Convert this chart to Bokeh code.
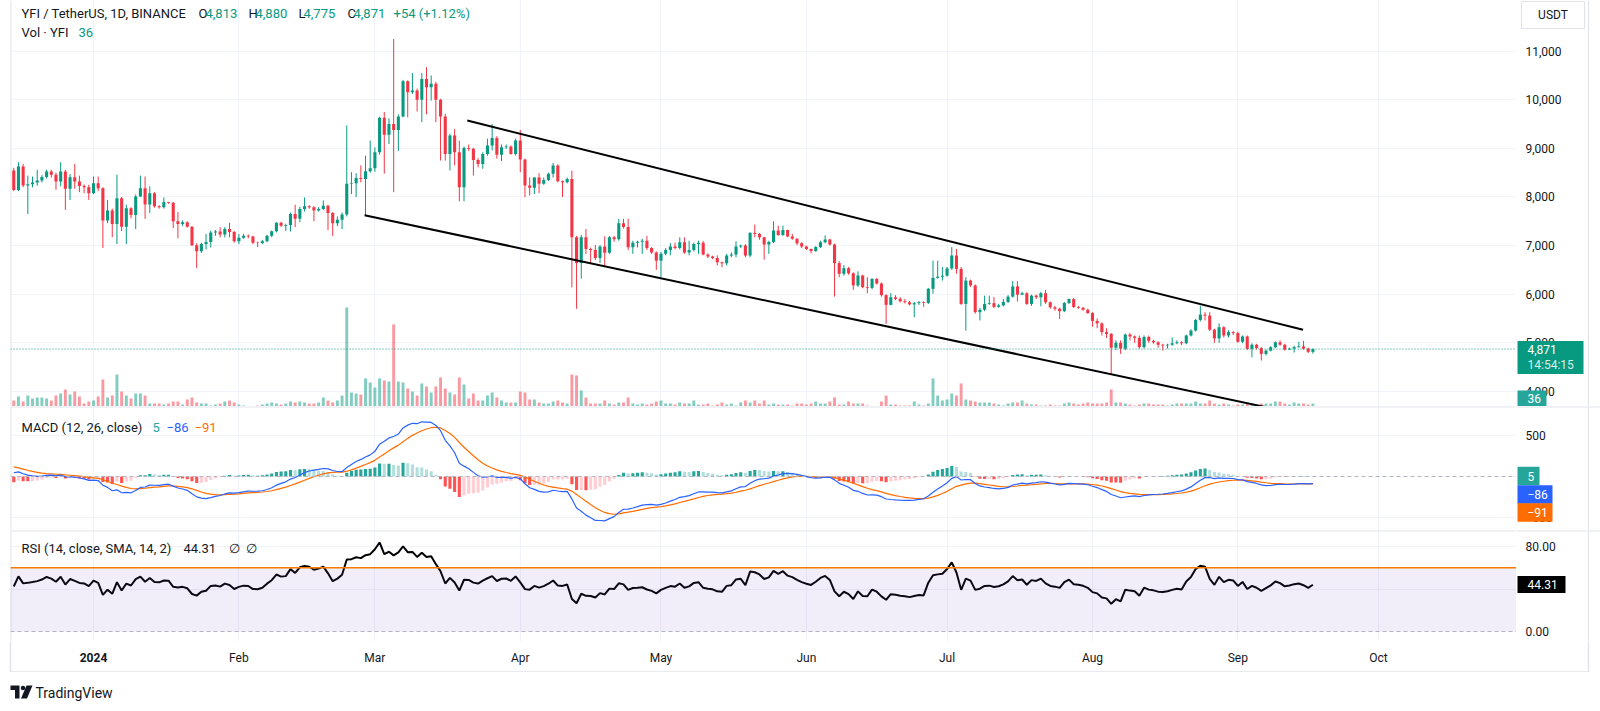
import numpy as np
import pandas as pd
from bokeh.plotting import figure
from bokeh.layouts import column, row
from bokeh.models import Range1d, FixedTicker, Grid, Label, Span, BoxAnnotation
from bokeh.core.properties import value
from bokeh.embed import file_html
from bokeh.resources import INLINE

# ---------------- data ----------------
FIRST_DAY = "2023-12-15"
REF_DAY = "2024-01-01"

opens = [
    8544, 8146, 8626, 8235, 8260, 8300, 8340, 8410, 8525, 8455,
    8320, 8525, 8170, 8407, 8320, 8225, 8200, 8078, 8285, 8180,
    7515, 7721, 7446, 7975, 7390, 7770, 7630, 8010, 8180, 7845,
    8078, 7810, 7790, 7895, 7880, 7500, 7446, 7480, 7390, 7007,
    6884, 7035, 7075, 7270, 7290, 7230, 7340, 7280, 7090, 7160,
    7200, 7185, 7060, 7055, 7090, 7200, 7295, 7470, 7410, 7425,
    7650, 7550, 7755, 7810, 7790, 7720, 7755, 7820, 7670, 7460,
    7530, 7640, 8270, 8285, 8390, 8370, 8530, 8590, 8920, 9630,
    9280, 9500, 9380, 9655, 10380, 10155, 10190, 10000, 10430, 10260,
    10330, 10000, 9655, 8887, 9265, 8920, 8200, 9010, 8990, 8760,
    8680, 8887, 9060, 9216, 8870, 9024, 9040, 8887, 9160, 8770,
    8235, 8190, 8400, 8270, 8350, 8476, 8650, 8325, 8305, 8370,
    7170, 6640, 7172, 6930, 6910, 6745, 6980, 6855, 7170, 7130,
    7460, 7380, 6966, 7060, 7080, 7100, 6950, 6860, 6690, 6830,
    6910, 6980, 6950, 7070, 6860, 6910, 7035, 7060, 6815, 6775,
    6745, 6655, 6635, 6795, 6815, 6980, 7000, 6795, 7260, 7240,
    7170, 7020, 7075, 7310, 7220, 7320, 7185, 7140, 7050, 6980,
    6930, 6890, 6970, 7070, 7125, 7020, 6640, 6420, 6535, 6430,
    6180, 6385, 6145, 6130, 6315, 6220, 5980, 5780, 5937, 5905,
    5855, 5835, 5790, 5815, 5835, 5820, 6110, 6335, 6360, 6380,
    6530, 6795, 6520, 5800, 6280, 6180, 5630, 5680, 5800, 5815,
    5740, 5770, 5840, 5950, 6160, 5990, 6020, 5800, 5970, 5937,
    6020, 5835, 5730, 5700, 5650, 5820, 5900, 5735, 5720, 5680,
    5610, 5450, 5400, 5220, 5183, 4900, 5000, 4880, 5170, 5130,
    5100, 4910, 5120, 5040, 5010, 4960, 4945, 4960, 4990, 5010,
    4990, 5150, 5251, 5470, 5580, 5560, 5270, 5090, 5320, 5150,
    5220, 5200, 5020, 5130, 4874, 4960, 4890, 4771, 4840, 4908,
    5010, 4960, 4860, 4880, 4910, 4925, 4880, 4813,
]
highs = [
    8600, 8716, 8680, 8440, 8420, 8560, 8450, 8560, 8560, 8500,
    8716, 8560, 8470, 8680, 8440, 8260, 8250, 8420, 8420, 8200,
    7940, 7760, 8460, 8000, 7840, 7790, 8050, 8440, 8420, 8220,
    8100, 7830, 7990, 7900, 7900, 7690, 7520, 7500, 7400, 7050,
    7060, 7240, 7310, 7320, 7380, 7380, 7470, 7300, 7240, 7240,
    7230, 7200, 7080, 7120, 7220, 7310, 7480, 7490, 7450, 7680,
    7840, 7800, 7990, 7830, 7810, 7790, 7930, 7840, 7690, 7600,
    7680, 9470, 8510, 8490, 8650, 8850, 9160, 9020, 9650, 9750,
    9620, 11250, 9700, 10410, 10400, 10550, 10230, 10550, 10670, 10500,
    10370, 10020, 9710, 9300, 9400, 9160, 9040, 9080, 9010, 8800,
    8920, 9200, 9505, 9250, 9080, 9080, 9060, 9200, 9380, 8790,
    8400, 8410, 8490, 8400, 8500, 8700, 8670, 8340, 8400, 8540,
    7200, 7220, 7340, 6960, 7010, 7010, 7190, 7200, 7200, 7550,
    7550, 7550, 7100, 7100, 7140, 7200, 6970, 6880, 6870, 6950,
    7050, 7060, 7170, 7170, 7100, 7060, 7100, 7090, 6840, 6790,
    6800, 6670, 6830, 6860, 7090, 7020, 7030, 7280, 7430, 7260,
    7180, 7100, 7500, 7410, 7410, 7330, 7240, 7150, 7070, 7000,
    6940, 6990, 7100, 7210, 7140, 7040, 6680, 6600, 6560, 6450,
    6470, 6400, 6350, 6330, 6330, 6240, 6000, 6020, 5980, 5940,
    5900, 5860, 5840, 5860, 5850, 6130, 6690, 6690, 6560, 6560,
    6970, 6930, 6560, 6350, 6300, 6200, 5720, 5970, 5970, 5940,
    5800, 5900, 5980, 6270, 6270, 6050, 6040, 5990, 5990, 6050,
    6090, 5850, 5760, 5720, 5840, 5910, 5920, 5760, 5740, 5700,
    5630, 5500, 5420, 5300, 5200, 5050, 5050, 5190, 5200, 5150,
    5150, 5150, 5150, 5060, 5030, 4980, 4980, 5110, 5050, 5030,
    5170, 5280, 5490, 5760, 5630, 5630, 5290, 5400, 5340, 5260,
    5240, 5230, 5150, 5150, 4990, 4980, 4910, 4860, 4930, 5030,
    5050, 4980, 4900, 4940, 5020, 5040, 4900, 4880,
]
lows = [
    8120, 8120, 8200, 7652, 8200, 8230, 8300, 8380, 8400, 8150,
    8220, 7735, 7940, 8170, 8100, 8080, 7940, 8060, 8120, 6950,
    7460, 7172, 7030, 7300, 7030, 7560, 7340, 8000, 7550, 7670,
    7780, 7760, 7760, 7860, 7360, 7150, 7400, 7370, 6990, 6535,
    6850, 6920, 6960, 7200, 7170, 7170, 7170, 7060, 7030, 7140,
    7150, 7030, 6970, 7030, 7070, 7170, 7270, 7380, 7300, 7290,
    7380, 7480, 7700, 7760, 7500, 7700, 7730, 7320, 7200, 7400,
    7340, 7600, 8060, 8000, 8300, 7620, 8500, 8520, 8870, 8480,
    9090, 8100, 8950, 9640, 9640, 10120, 9760, 9540, 9700, 9985,
    9540, 8750, 8750, 8545, 8650, 7910, 7910, 8950, 8440, 8610,
    8580, 8850, 8960, 8790, 8740, 8990, 8870, 8850, 8510, 7995,
    8030, 8060, 8080, 8250, 8330, 8400, 8300, 8000, 8280, 6140,
    5700, 6320, 6830, 6640, 6700, 6640, 6560, 6830, 7080, 7100,
    7350, 6910, 6830, 6960, 6830, 6910, 6830, 6500, 6349, 6800,
    6800, 6920, 6920, 6830, 6800, 6880, 6830, 6800, 6740, 6720,
    6590, 6555, 6590, 6760, 6760, 6950, 6760, 6760, 7170, 7120,
    6710, 6830, 7050, 7200, 7200, 7170, 7120, 7010, 6950, 6910,
    6840, 6870, 6950, 7050, 7000, 5950, 6350, 6380, 6400, 6090,
    6150, 6120, 6020, 6100, 6200, 5950, 5390, 5770, 5880, 5830,
    5810, 5770, 5526, 5780, 5740, 5800, 6010, 6320, 6280, 6360,
    6500, 6420, 5780, 5250, 6150, 5600, 5460, 5650, 5780, 5710,
    5720, 5750, 5820, 5930, 5850, 5980, 5780, 5760, 5900, 5750,
    5800, 5700, 5660, 5490, 5630, 5800, 5720, 5700, 5660, 5600,
    5330, 5300, 5150, 5100, 4360, 4850, 4770, 4850, 5050, 5000,
    4880, 4880, 5000, 4980, 4900, 4840, 4880, 4940, 4970, 4950,
    4970, 5130, 5230, 5440, 5460, 5240, 5000, 5000, 5110, 5110,
    5160, 5000, 4990, 4850, 4700, 4860, 4634, 4740, 4820, 4890,
    4940, 4840, 4850, 4800, 4900, 4860, 4790, 4775,
]
closes = [
    8146, 8626, 8235, 8260, 8300, 8340, 8410, 8525, 8455, 8320,
    8525, 8170, 8407, 8320, 8225, 8200, 8078, 8285, 8180, 7515,
    7721, 7446, 7975, 7390, 7770, 7630, 8010, 8180, 7845, 8078,
    7810, 7790, 7895, 7880, 7500, 7446, 7480, 7390, 7007, 6884,
    7035, 7075, 7270, 7290, 7230, 7340, 7280, 7090, 7160, 7200,
    7185, 7060, 7055, 7090, 7200, 7295, 7470, 7410, 7425, 7650,
    7550, 7755, 7810, 7790, 7720, 7755, 7820, 7670, 7460, 7530,
    7640, 8270, 8285, 8390, 8370, 8530, 8590, 8920, 9630, 9280,
    9500, 9380, 9655, 10380, 10155, 10190, 10000, 10430, 10260, 10330,
    10000, 9655, 8887, 9265, 8920, 8200, 9010, 8990, 8760, 8680,
    8887, 9060, 9216, 8870, 9024, 9040, 8887, 9160, 8770, 8235,
    8190, 8400, 8270, 8350, 8476, 8650, 8325, 8305, 8370, 7170,
    6640, 7172, 6930, 6910, 6745, 6980, 6855, 7170, 7130, 7460,
    7380, 6966, 7060, 7080, 7100, 6950, 6860, 6690, 6830, 6910,
    6980, 6950, 7070, 6860, 6910, 7035, 7060, 6815, 6775, 6745,
    6655, 6635, 6795, 6815, 6980, 7000, 6795, 7260, 7240, 7170,
    7020, 7075, 7310, 7220, 7320, 7185, 7140, 7050, 6980, 6930,
    6890, 6970, 7070, 7125, 7020, 6640, 6420, 6535, 6430, 6180,
    6385, 6145, 6130, 6315, 6220, 5980, 5780, 5937, 5905, 5855,
    5835, 5790, 5815, 5835, 5820, 6110, 6335, 6360, 6380, 6530,
    6795, 6520, 5800, 6280, 6180, 5630, 5680, 5800, 5815, 5740,
    5770, 5840, 5950, 6160, 5990, 6020, 5800, 5970, 5937, 6020,
    5835, 5730, 5700, 5650, 5820, 5900, 5735, 5720, 5680, 5610,
    5450, 5400, 5220, 5183, 4900, 5000, 4880, 5170, 5130, 5100,
    4910, 5120, 5040, 5010, 4960, 4945, 4960, 4990, 5010, 4990,
    5150, 5251, 5470, 5580, 5560, 5270, 5090, 5320, 5150, 5220,
    5200, 5020, 5130, 4874, 4960, 4890, 4771, 4840, 4908, 5010,
    4960, 4860, 4880, 4910, 4925, 4880, 4813, 4871,
]
volumes = [
    72, 120, 60, 132, 96, 108, 108, 96, 72, 132,
    156, 204, 144, 180, 120, 36, 60, 72, 120, 324,
    108, 132, 384, 180, 132, 96, 156, 156, 132, 36,
    36, 36, 24, 36, 60, 60, 24, 84, 108, 48,
    36, 36, 12, 24, 36, 60, 72, 48, 24, 12,
    6, 6, 12, 24, 36, 48, 36, 24, 36, 60,
    48, 60, 48, 36, 36, 48, 108, 72, 48, 72,
    132, 1188, 168, 156, 144, 336, 288, 228, 336, 312,
    300, 984, 300, 288, 216, 180, 132, 276, 240, 168,
    240, 348, 216, 168, 144, 348, 264, 96, 156, 72,
    72, 132, 168, 108, 72, 48, 48, 48, 180, 168,
    84, 84, 48, 36, 36, 60, 72, 48, 36, 384,
    372, 192, 108, 36, 36, 36, 72, 36, 24, 48,
    48, 108, 36, 24, 36, 24, 36, 60, 72, 36,
    36, 24, 48, 36, 36, 72, 24, 24, 36, 12,
    24, 48, 24, 36, 12, 48, 72, 48, 72, 36,
    72, 24, 36, 24, 24, 24, 12, 36, 36, 24,
    36, 60, 36, 36, 60, 108, 24, 24, 60, 36,
    36, 36, 12, 6, 6, 60, 132, 24, 24, 12,
    12, 12, 60, 24, 12, 36, 336, 132, 72, 84,
    156, 132, 276, 84, 72, 60, 48, 48, 48, 36,
    24, 12, 36, 48, 48, 72, 36, 24, 24, 12,
    12, 24, 12, 12, 36, 48, 36, 24, 36, 48,
    36, 36, 36, 48, 204, 48, 48, 36, 24, 12,
    24, 36, 36, 24, 24, 24, 12, 24, 36, 36,
    36, 36, 60, 36, 36, 72, 36, 24, 36, 24,
    12, 24, 24, 36, 36, 24, 36, 36, 36, 60,
    60, 36, 24, 48, 36, 36, 24, 36,
]

# month ticks (days after 2024-01-01) and labels
month_ticks = [0, 31, 60, 91, 121, 152, 182, 213, 244, 274]
month_labels = ["2024", "Feb", "Mar", "Apr", "May", "Jun", "Jul", "Aug", "Sep", "Oct"]
month_styles = ["bold"] + ["normal"] * 9
price_ticks = [4000, 5000, 6000, 7000, 8000, 9000, 10000, 11000]
price_tick_labels = ["4,000", "5,000", "6,000", "7,000", "8,000", "9,000", "10,000", "11,000"]
macd_ticks = [-500, 0, 500]
macd_tick_labels = ["\u2212500", "0", "500"]
rsi_grid_ticks = [40, 80]
rsi_label_ticks = [0, 80]
rsi_tick_labels = ["0.00", "80.00"]

# drawn channel (days after 2024-01-01, price)
upper_channel_days = [79.7, 257.9]
upper_channel_prices = [9574, 5267]
lower_channel_days = [57.8, 252.0]
lower_channel_prices = [7626, 3633]

# last values shown on the scales
LAST_PRICE_TEXT = "4,871"
COUNTDOWN_TEXT = "14:54:15"
LAST_VOL_TEXT = "36"
HIST_LAST, MACD_LAST, SIGNAL_LAST = 5, -86, -91
RSI_LAST = 44.31

# indicator warm-up state before the first visible bar
FAST_SEED, SLOW_SEED, SIGNAL_SEED = 8500.0, 8420.0, 134.0
RSI_SEED_GAIN, RSI_SEED_LOSS = 85.0, 85.0
RSI_UPPER, RSI_LOWER = 60, 0

# ---------------- derived ----------------
dates = pd.date_range(FIRST_DAY, periods=len(closes), freq="D")
day = np.asarray((dates - pd.Timestamp(REF_DAY)).days, dtype=float)
o = np.array(opens, float); h = np.array(highs, float)
l = np.array(lows, float); c = np.array(closes, float)

UP, DOWN = "#089981", "#F23645"
ccol = [UP if cc >= oo else DOWN for oo, cc in zip(o, c)]


def ema(vals, n, seed):
    a = 2.0 / (n + 1)
    out = np.empty(len(vals))
    prev = seed
    for i, v in enumerate(vals):
        prev = prev + a * (v - prev)
        out[i] = prev
    return out


macd = ema(c, 12, FAST_SEED) - ema(c, 26, SLOW_SEED)
signal = ema(macd, 9, SIGNAL_SEED)
hist = macd - signal
hcol = []
for i, v in enumerate(hist):
    pv = hist[i - 1] if i > 0 else v
    if v >= 0:
        hcol.append("#26A69A" if v >= pv else "#B2DFDB")
    else:
        hcol.append("#FF5252" if v <= pv else "#FFCDD2")

prev_close = np.concatenate([[o[0]], c[:-1]])
chg = c - prev_close
ag, al = RSI_SEED_GAIN, RSI_SEED_LOSS
rsi = []
for g, ls in zip(np.clip(chg, 0, None), np.clip(-chg, 0, None)):
    ag = (ag * 13 + g) / 14
    al = (al * 13 + ls) / 14
    rsi.append(100 - 100 / (1 + ag / al))

# ---------------- layout / styling ----------------
FONT = "Roboto"
TEXT = "#131722"
GRID = "#F0F3FA"
BORDER = "#E0E3EB"
PAGE_X_JAN1, PX_PER_DAY = 93.0, 4.69
MAIN_LEFT, MAIN_RIGHT, SIDE_W, PAGE_W = 10, 1516, 84, 1600


def px_to_day(px):
    return (px - PAGE_X_JAN1) / PX_PER_DAY


XR_MAIN = Range1d(px_to_day(MAIN_LEFT), px_to_day(MAIN_RIGHT))
XR_SIDE = Range1d(0, SIDE_W)


def base_fig(w, h, xr, yr, left=0):
    p = figure(width=w, height=h, x_range=xr, y_range=yr, x_axis_location=None,
               y_axis_location=None, toolbar_location=None, output_backend="svg", title=None,
               min_border_left=left, min_border_right=0, min_border_top=0, min_border_bottom=0)
    p.center = [r for r in p.center if not isinstance(r, Grid)]
    p.outline_line_color = None
    p.background_fill_color = "white"
    p.border_fill_color = "white"
    return p


def main_fig(h, yr, yticks):
    p = base_fig(MAIN_RIGHT, h, XR_MAIN, yr, left=MAIN_LEFT)
    p.add_layout(Grid(dimension=0, ticker=FixedTicker(ticks=month_ticks), grid_line_color=GRID))
    p.add_layout(Grid(dimension=1, ticker=FixedTicker(ticks=yticks), grid_line_color=GRID))
    p.add_layout(Span(location=XR_MAIN.start, dimension="height", line_color=BORDER, line_width=2))
    return p


def side_fig(h, yr, ticks, labels):
    s = base_fig(SIDE_W, h, XR_SIDE, yr)
    s.text(x=[9] * len(ticks), y=ticks, text=labels, text_font=value(FONT),
           text_font_size=value("12px"), text_color=TEXT, text_baseline="middle",
           text_align="left")
    s.add_layout(Span(location=72, dimension="height", line_color=BORDER, line_width=1))
    return s


def side_box(s, x0, w, yc, hpx, fill, texts, ys, alphas=None, y_range_name="default",
             tcolor="white", line=None, align="left", tx=None):
    s.rect(x=[x0 + w / 2], y=[yc], width=w, height=hpx, height_units="screen",
           fill_color=fill, line_color=line, y_range_name=y_range_name)
    s.text(x=[tx if tx is not None else x0 + 10] * len(texts), y=ys, text=texts,
           text_font=value(FONT), text_font_size=value("12px"), text_color=tcolor,
           text_alpha=alphas if alphas is not None else 1.0, text_baseline="middle",
           text_align=align, y_range_name=y_range_name)


def add_label(p, x, y, text, color=TEXT, size="13px"):
    p.add_layout(Label(x=x, y=y, x_units="screen", y_units="screen", text=text,
                       text_color=color, text_font=FONT, text_font_size=size,
                       text_align="left", text_baseline="middle"))


def sep_top(p):
    p.add_layout(Span(location=p.y_range.end, dimension="width", line_color=BORDER, line_width=2))


# ---------------- price pane ----------------
H1 = 406
YR1 = Range1d(3689, 12043)
VR = Range1d(0, 4870)
PRICE_PX = H1 / (YR1.end - YR1.start)
VOL_PX = H1 / (VR.end - VR.start)
p1 = main_fig(H1, YR1, price_ticks)
p1.extra_y_ranges = {"vol": VR}
p1.vbar(x=day, top=volumes, bottom=0, width=0.62, fill_color=ccol, fill_alpha=0.5,
        line_color=None, y_range_name="vol")
p1.segment(x0=day, y0=l, x1=day, y1=h, line_color=ccol, line_width=1)
p1.vbar(x=day, top=np.maximum(o, c), bottom=np.minimum(o, c), width=0.66,
        fill_color=ccol, line_color=None)
p1.line(upper_channel_days, upper_channel_prices, line_color="black", line_width=2)
p1.line(lower_channel_days, lower_channel_prices, line_color="black", line_width=2)
p1.add_layout(Span(location=closes[-1], dimension="width", line_color=UP,
                   line_dash="1 2", line_width=1))

add_label(p1, 11, H1 - 13, "YFI / TetherUS, 1D, BINANCE")
for xx, tt, cc in [(188, "O", TEXT), (195, "4,813", UP), (238, "H", TEXT), (245, "4,880", UP),
                   (288, "L", TEXT), (293, "4,775", UP), (337, "C", TEXT), (343, "4,871", UP),
                   (383, "+54 (+1.12%)", UP)]:
    add_label(p1, xx, H1 - 13, tt, color=cc)
add_label(p1, 11, H1 - 32, "Vol \u00b7 YFI")
add_label(p1, 68, H1 - 32, "36", color=UP)

s1 = side_fig(H1, YR1, price_ticks, price_tick_labels)
s1.extra_y_ranges = {"vol": VR}
side_box(s1, 1, 66, closes[-1] - 8.5 / PRICE_PX, 33, UP,
         [LAST_PRICE_TEXT, COUNTDOWN_TEXT], [closes[-1], closes[-1] - 16 / PRICE_PX],
         alphas=[1.0, 0.85])
side_box(s1, 1, 29, volumes[-1] + 5 / VOL_PX, 16, "#26A69A", [LAST_VOL_TEXT],
         [volumes[-1] + 5 / VOL_PX], y_range_name="vol")
side_box(s1, 5, 63, YR1.end - 14.5 / PRICE_PX, 27, "white", ["USDT"],
         [YR1.end - 14.5 / PRICE_PX], tcolor=TEXT, line=BORDER, align="center", tx=36.5)

# ---------------- MACD pane ----------------
H2 = 124
YR2 = Range1d(-659, 854)
MACD_PX = H2 / (YR2.end - YR2.start)
p2 = main_fig(H2, YR2, [-500, 500])
p2.add_layout(Span(location=0, dimension="width", line_color="#B2B5BE", line_dash="4 3",
                   line_width=1))
p2.vbar(x=day, top=hist, bottom=0, width=0.66, fill_color=hcol, line_color=None)
p2.line(day, signal, line_color="#FF6D00", line_width=1.2)
p2.line(day, macd, line_color="#2962FF", line_width=1.2)
sep_top(p2)
add_label(p2, 11, H2 - 21, "MACD (12, 26, close)")
add_label(p2, 142, H2 - 21, str(HIST_LAST), color="#26A69A")
add_label(p2, 156, H2 - 21, "\u2212" + str(-MACD_LAST), color="#2962FF")
add_label(p2, 184, H2 - 21, "\u2212" + str(-SIGNAL_LAST), color="#FF6D00")

s2 = side_fig(H2, YR2, macd_ticks, macd_tick_labels)
sep_top(s2)
y_h = HIST_LAST
y_m = HIST_LAST - 18.5 / MACD_PX
y_s = HIST_LAST - 36.5 / MACD_PX
side_box(s2, 1, 22, y_h, 18.5, "#26A69A", [str(HIST_LAST)], [y_h])
side_box(s2, 1, 35, y_m, 18.5, "#2962FF", ["\u2212" + str(-MACD_LAST)], [y_m])
side_box(s2, 1, 35, y_s, 18.5, "#FF6D00", ["\u2212" + str(-SIGNAL_LAST)], [y_s])

# ---------------- RSI pane ----------------
H3 = 111
YR3 = Range1d(-9.4, 95.1)
p3 = main_fig(H3, YR3, rsi_grid_ticks)
p3.add_layout(BoxAnnotation(bottom=RSI_LOWER, top=RSI_UPPER, fill_color="#7E57C2",
                            fill_alpha=0.1, line_color=None))
p3.add_layout(Span(location=RSI_UPPER, dimension="width", line_color="#F57C00", line_width=1.5))
p3.add_layout(Span(location=RSI_LOWER, dimension="width", line_color="#B2B5BE",
                   line_dash="4 3", line_width=1))
p3.line(day, rsi, line_color="black", line_width=2)
sep_top(p3)
add_label(p3, 11, H3 - 18, "RSI (14, close, SMA, 14, 2)")
add_label(p3, 173, H3 - 18, f"{RSI_LAST:.2f}")
add_label(p3, 218, H3 - 18, "\u2205")
add_label(p3, 235, H3 - 18, "\u2205")

s3 = side_fig(H3, YR3, rsi_label_ticks, rsi_tick_labels)
sep_top(s3)
side_box(s3, 1, 48, RSI_LAST, 17, "black", [f"{RSI_LAST:.2f}"], [RSI_LAST])

# ---------------- time scale ----------------
H4 = 31
t = base_fig(PAGE_W, H4, Range1d(px_to_day(0), px_to_day(PAGE_W)), Range1d(0, H4))
t.text(x=month_ticks, y=[15] * len(month_ticks), text=month_labels,
       text_font_style=month_styles, text_font=value(FONT), text_font_size=value("12px"),
       text_color=TEXT, text_align="center", text_baseline="middle")
x_left, x_right = px_to_day(MAIN_LEFT), px_to_day(MAIN_RIGHT + 72)
t.segment(x0=[x_left, x_right, x_left], y0=[0, 0, 0.5], x1=[x_left, x_right, x_right],
          y1=[H4, H4, 0.5], line_color=BORDER, line_width=1.5)

# ---------------- footer logo ----------------
H5 = 39
g = base_fig(PAGE_W, H5, Range1d(0, PAGE_W), Range1d(0, H5))
g.patches(xs=[[10, 19, 19, 14.5, 14.5, 10], [26, 32, 26.5, 20.5]],
          ys=[[26, 26, 13, 13, 21.5, 21.5], [26, 26, 13, 13]], fill_color=TEXT, line_color=None)
g.scatter(x=[22.5], y=[23.5], size=4.5, fill_color=TEXT, line_color=None)
g.text(x=[35], y=[19], text=["TradingView"], text_font=value(FONT),
       text_font_size=value("14px"), text_color=TEXT, text_baseline="middle", text_align="left")

layout = column(row(p1, s1, spacing=0), row(p2, s2, spacing=0), row(p3, s3, spacing=0), t, g,
                spacing=0)
open("out.html", "w").write(file_html(layout, INLINE))
